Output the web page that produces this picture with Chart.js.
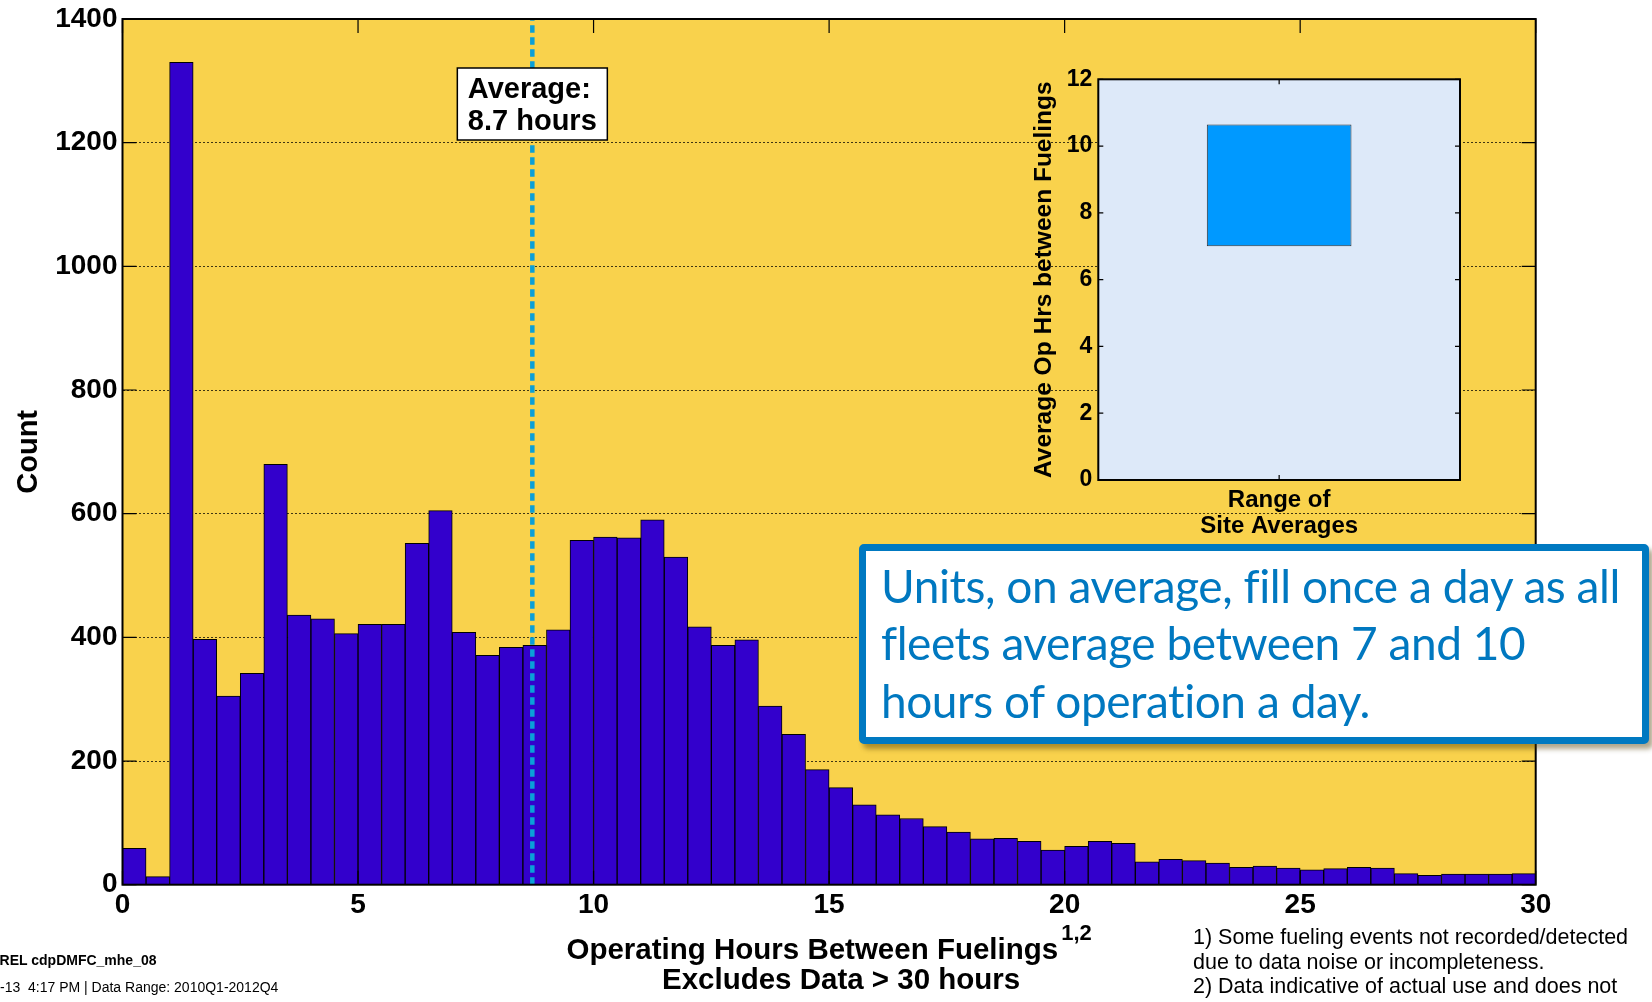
<!DOCTYPE html>
<html>
<head>
<meta charset="utf-8">
<title>Operating Hours Between Fuelings</title>
<script src="https://cdn.jsdelivr.net/npm/chart.js"></script>
<style>
  html, body { margin: 0; padding: 0; background: #fff; overflow: hidden; }
  #wrap { position: relative; width: 1652px; height: 1002px; font-family: "Liberation Sans", Arial, sans-serif; }
  #main { position: absolute; left: 0; top: 0; }
  #inset { position: absolute; left: 990px; top: 50px; }
  .note { position: absolute; color: #000; white-space: pre; }
  #foot { left: 1193px; top: 925px; font-size: 21.5px; line-height: 24.5px; }
  #src1 { left: -10.5px; top: 953px; font-size: 14px; line-height: 14px; font-weight: bold; }
  #src2 { left: 0; top: 980px; font-size: 14px; line-height: 14px; }
  #callout {
    position: absolute; left: 859px; top: 543.5px; width: 790px; height: 200px;
    box-sizing: border-box; border: 7.5px solid #0079c1; border-radius: 5px;
    background: #fff; box-shadow: 4px 5px 5px rgba(80, 60, 0, 0.45);
    color: #0078c0; font-family: Lato, "Open Sans", sans-serif;
    font-size: 46px; line-height: 57.5px; padding: 6px 0 0 15px; white-space: nowrap;
    font-variant-ligatures: none; letter-spacing: -0.45px;
  }
</style>
</head>
<body>
<div id="wrap">
  <canvas id="main" width="1652" height="1002"></canvas>
  <canvas id="inset" width="490" height="500"></canvas>
  <div id="callout">Units, on average, fill once a day as all<br>fleets average between 7 and 10<br>hours of operation a day.</div>
  <div class="note" id="foot">1) Some fueling events not recorded/detected
due to data noise or incompleteness.
2) Data indicative of actual use and does not</div>
  <div class="note" id="src1">NREL cdpDMFC_mhe_08</div>
  <div class="note" id="src2">-13  4:17 PM | Data Range: 2010Q1-2012Q4</div>
</div>
<script>
// histogram: 0.5 hour bins from 0 to 30 hours
const binWidth = 0.5;
const binStarts = [0, 0.5, 1, 1.5, 2, 2.5, 3, 3.5, 4, 4.5, 5, 5.5, 6, 6.5, 7, 7.5, 8, 8.5, 9, 9.5,
  10, 10.5, 11, 11.5, 12, 12.5, 13, 13.5, 14, 14.5, 15, 15.5, 16, 16.5, 17, 17.5, 18, 18.5, 19, 19.5,
  20, 20.5, 21, 21.5, 22, 22.5, 23, 23.5, 24, 24.5, 25, 25.5, 26, 26.5, 27, 27.5, 28, 28.5, 29, 29.5];
const counts = [59, 13, 1330, 397, 305, 342, 680, 436, 430, 406,
  421, 421, 552, 605, 408, 371, 384, 387, 412, 557,
  562, 561, 590, 530, 417, 387, 396, 289, 243, 186,
  157, 129, 113, 107, 94, 85, 74, 75, 70, 56,
  62, 70, 67, 37, 41, 39, 35, 28, 30, 27,
  24, 26, 28, 27, 18, 15, 17, 17, 17, 18];
const avgHours = 8.7;
const avgLabel = ['Average:', '8.7 hours'];
const xTicksMax = 30;
const yTicksMax = 1400;
const yTitle = 'Count';
const xTitle = 'Operating Hours Between Fuelings';
const xTitleSup = '1,2';
const xSubtitle = 'Excludes Data > 30 hours';

// inset: range of site averages
const insetLabels = [''];
const siteAvgRange = [7.0, 10.65];
const insetYMax = 12;
const insetYTitle = 'Average Op Hrs between Fuelings';
const insetXTitle = ['Range of', 'Site Averages'];

const FONT = '"Liberation Sans", Arial, sans-serif';
Chart.defaults.font.family = FONT;
Chart.defaults.color = '#000';

function inwardTicks(chart, len) {
  const ctx = chart.ctx;
  const a = chart.chartArea;
  const xs = chart.scales.x, ys = chart.scales.y;
  ctx.save();
  ctx.strokeStyle = '#000';
  ctx.lineWidth = 1.2;
  ctx.beginPath();
  xs.ticks.forEach((t, i) => {
    const px = xs.getPixelForTick(i);
    ctx.moveTo(px, a.bottom); ctx.lineTo(px, a.bottom - len);
    ctx.moveTo(px, a.top); ctx.lineTo(px, a.top + len);
  });
  ys.ticks.forEach((t, i) => {
    const py = ys.getPixelForTick(i);
    ctx.moveTo(a.left, py); ctx.lineTo(a.left + len, py);
    ctx.moveTo(a.right, py); ctx.lineTo(a.right - len, py);
  });
  ctx.stroke();
  ctx.restore();
}

function plotBg(color) {
  return {
    id: 'plotBg',
    beforeDraw(chart) {
      const a = chart.chartArea;
      chart.ctx.save();
      chart.ctx.fillStyle = color;
      chart.ctx.fillRect(a.left, a.top, a.right - a.left, a.bottom - a.top);
      chart.ctx.restore();
    }
  };
}

function frame(tickLen) {
  return {
    id: 'frame',
    afterDatasetsDraw(chart) {
      const a = chart.chartArea;
      const ctx = chart.ctx;
      inwardTicks(chart, tickLen);
      ctx.save();
      ctx.strokeStyle = '#000';
      ctx.lineWidth = 2;
      ctx.strokeRect(a.left, a.top, a.right - a.left, a.bottom - a.top);
      ctx.restore();
    }
  };
}

const mainDecor = {
  id: 'mainDecor',
  afterDatasetsDraw(chart) {
    const ctx = chart.ctx;
    const a = chart.chartArea;
    const x = chart.scales.x.getPixelForValue(avgHours);
    const top = a.top + 49;
    ctx.save();
    ctx.fillStyle = '#fff';
    ctx.fillRect(x - 75, top, 150, 72);
    ctx.strokeStyle = '#000';
    ctx.lineWidth = 1.5;
    ctx.strokeRect(x - 75, top, 150, 72);
    ctx.fillStyle = '#000';
    ctx.font = 'bold 29px ' + FONT;
    ctx.textAlign = 'left';
    ctx.textBaseline = 'alphabetic';
    ctx.fillText(avgLabel[0], x - 64.5, top + 29.6);
    ctx.fillText(avgLabel[1], x - 64.5, top + 62.3);
    ctx.restore();
  },
  afterDraw(chart) {
    const ctx = chart.ctx;
    const a = chart.chartArea;
    const cx = (a.left + a.right) / 2;
    ctx.save();
    ctx.fillStyle = '#000';
    ctx.textBaseline = 'alphabetic';
    ctx.font = 'bold 29.5px ' + FONT;
    const w1 = ctx.measureText(xTitle).width;
    ctx.font = 'bold 22px ' + FONT;
    const ws = ctx.measureText(xTitleSup).width;
    const start = cx - (w1 + 3 + ws) / 2;
    ctx.textAlign = 'left';
    ctx.font = 'bold 29.5px ' + FONT;
    ctx.fillText(xTitle, start, a.bottom + 74);
    ctx.font = 'bold 22px ' + FONT;
    ctx.fillText(xTitleSup, start + w1 + 3, a.bottom + 55);
    ctx.font = 'bold 29.5px ' + FONT;
    ctx.textAlign = 'center';
    ctx.fillText(xSubtitle, cx + 12, a.bottom + 104.5);
    ctx.restore();
  }
};

new Chart(document.getElementById('main'), {
  type: 'bar',
  data: {
    datasets: [{
      type: 'bar',
      data: binStarts.map((b, i) => ({ x: b + binWidth / 2, y: counts[i] })),
      backgroundColor: '#3300cc',
      borderColor: '#000',
      borderWidth: 1,
      barPercentage: 1,
      categoryPercentage: 1,
      order: 2
    }, {
      type: 'line',
      data: [{ x: avgHours, y: 0 }, { x: avgHours, y: yTicksMax }],
      borderColor: '#0a9fd8',
      borderWidth: 4.5,
      borderDash: [7.5, 4.5],
      pointRadius: 0,
      order: 1
    }]
  },
  options: {
    responsive: false,
    animation: false,
    events: [],
    layout: { padding: { top: 16, right: 116.3, left: 0, bottom: 0 } },
    plugins: { legend: { display: false }, tooltip: { enabled: false } },
    scales: {
      x: {
        type: 'linear', position: 'bottom', min: 0, max: xTicksMax, offset: false,
        ticks: { stepSize: 5, font: { size: 28, weight: 'bold', lineHeight: 1 }, padding: 7, color: '#000',
          callback: v => String(v) },
        grid: { display: false, drawTicks: false },
        border: { display: false },
        afterFit(s) { s.height = 117.3; }
      },
      y: {
        min: 0, max: yTicksMax,
        ticks: { stepSize: 200, font: { size: 28, weight: 'bold', lineHeight: 1 }, padding: 5, color: '#000',
          callback: v => String(v) },
        grid: { color: 'rgba(0,0,0,0.75)', lineWidth: 1, drawTicks: false },
        border: { display: false, dash: [2, 2] },
        title: { display: true, text: yTitle, font: { size: 29, weight: 'bold', lineHeight: 1.2 }, color: '#000', padding: { top: 11.6, bottom: 0 } },
        afterFit(s) { s.width = 122.5; }
      }
    }
  },
  plugins: [plotBg('#f9d24c'), frame(14), mainDecor]
});

new Chart(document.getElementById('inset'), {
  type: 'bar',
  data: {
    labels: insetLabels,
    datasets: [{
      data: [siteAvgRange],
      backgroundColor: '#0099ff',
      borderColor: '#333',
      borderWidth: 1,
      borderSkipped: false,
      barPercentage: 0.4,
      categoryPercentage: 1
    }]
  },
  options: {
    responsive: false,
    animation: false,
    events: [],
    layout: { padding: { top: 29.3, right: 20, left: 0, bottom: 0 } },
    plugins: { legend: { display: false }, tooltip: { enabled: false } },
    scales: {
      x: {
        ticks: { display: false },
        grid: { display: false, drawTicks: false },
        border: { display: false },
        title: { display: true, text: insetXTitle, font: { size: 24, weight: 'bold', lineHeight: 1.11 }, color: '#000', padding: { top: 0, bottom: 10 } },
        afterFit(s) { s.height = 70; }
      },
      y: {
        min: 0, max: insetYMax,
        ticks: { stepSize: 2, font: { size: 23, weight: 'bold', lineHeight: 1 }, padding: 6, color: '#000' },
        grid: { display: false, drawTicks: false },
        border: { display: false },
        title: { display: true, text: insetYTitle, font: { size: 24.5, weight: 'bold', lineHeight: 1.2 }, color: '#000', padding: { top: 40, bottom: 0 } },
        afterFit(s) { s.width = 108.3; }
      }
    }
  },
  plugins: [plotBg('#dde9f9'), frame(5)]
});
</script>
</body>
</html>
